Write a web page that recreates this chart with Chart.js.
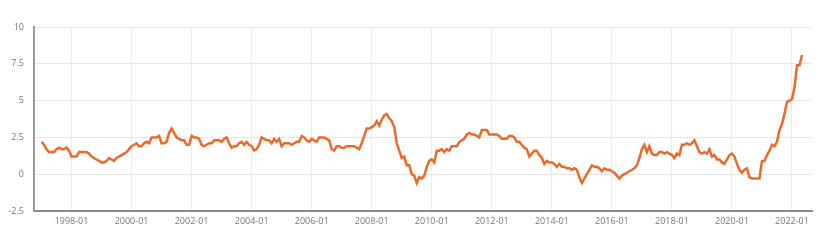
<!DOCTYPE html>
<html>
<head>
<meta charset="utf-8">
<script src="https://cdn.jsdelivr.net/npm/chart.js@4/dist/chart.umd.min.js"></script>
<style>
    html, body { margin: 0; padding: 0; background: #fff; }
    #wrap { width: 820px; height: 241px; }
</style>
</head>
<body>
<div id="wrap"><canvas id="chart" width="820" height="241"></canvas></div>
<script>
/* ---------- 資料 ---------- */
const firstYear = 1997;

// 每月數值（年增率 %），1997-01 ~ 2022-05
const inflation = [
    2.2, 2.0, 1.7, 1.5, 1.5, 1.5, 1.7, 1.8, 1.7, 1.7, 1.8, 1.6,   // 1997
    1.2, 1.2, 1.2, 1.5, 1.5, 1.5, 1.5, 1.4, 1.2, 1.1, 1.0, 0.9,   // 1998
    0.8, 0.8, 0.9, 1.1, 1.0, 0.9, 1.1, 1.2, 1.3, 1.4, 1.5, 1.7,   // 1999
    1.9, 2.0, 2.1, 1.9, 1.9, 2.1, 2.2, 2.1, 2.5, 2.5, 2.5, 2.6,   // 2000
    2.1, 2.1, 2.2, 2.8, 3.1, 2.8, 2.5, 2.4, 2.3, 2.3, 2.0, 2.0,   // 2001
    2.6, 2.5, 2.5, 2.4, 2.0, 1.9, 2.0, 2.1, 2.1, 2.3, 2.3, 2.3,   // 2002
    2.2, 2.4, 2.5, 2.1, 1.8, 1.9, 1.9, 2.1, 2.2, 2.0, 2.2, 2.0,   // 2003
    1.9, 1.6, 1.7, 2.0, 2.5, 2.4, 2.3, 2.3, 2.1, 2.4, 2.2, 2.4,   // 2004
    1.9, 2.1, 2.1, 2.1, 2.0, 2.1, 2.2, 2.2, 2.6, 2.5, 2.3, 2.2,   // 2005
    2.4, 2.3, 2.2, 2.5, 2.5, 2.5, 2.4, 2.3, 1.7, 1.6, 1.9, 1.9,   // 2006
    1.8, 1.8, 1.9, 1.9, 1.9, 1.9, 1.8, 1.7, 2.1, 2.6, 3.1, 3.1,   // 2007
    3.2, 3.3, 3.6, 3.3, 3.7, 4.0, 4.1, 3.8, 3.6, 3.2, 2.1, 1.6,   // 2008
    1.1, 1.2, 0.6, 0.6, 0.0, -0.1, -0.6, -0.2, -0.3, -0.1, 0.5, 0.9, // 2009
    1.0, 0.8, 1.6, 1.6, 1.7, 1.5, 1.7, 1.6, 1.9, 1.9, 1.9, 2.2,   // 2010
    2.3, 2.4, 2.7, 2.8, 2.7, 2.7, 2.6, 2.5, 3.0, 3.0, 3.0, 2.7,   // 2011
    2.7, 2.7, 2.7, 2.6, 2.4, 2.4, 2.4, 2.6, 2.6, 2.5, 2.2, 2.2,   // 2012
    2.0, 1.8, 1.7, 1.2, 1.4, 1.6, 1.6, 1.3, 1.1, 0.7, 0.9, 0.8,   // 2013
    0.8, 0.7, 0.5, 0.7, 0.5, 0.5, 0.4, 0.4, 0.3, 0.4, 0.3, -0.2,  // 2014
    -0.6, -0.3, 0.0, 0.3, 0.6, 0.5, 0.5, 0.4, 0.2, 0.4, 0.3, 0.3, // 2015
    0.2, 0.1, -0.1, -0.3, -0.1, 0.0, 0.1, 0.2, 0.3, 0.4, 0.6, 1.1, // 2016
    1.7, 2.0, 1.5, 1.9, 1.4, 1.3, 1.3, 1.5, 1.5, 1.4, 1.5, 1.4,   // 2017
    1.3, 1.1, 1.4, 1.3, 2.0, 2.0, 2.1, 2.0, 2.1, 2.3, 1.9, 1.5,   // 2018
    1.4, 1.5, 1.4, 1.7, 1.2, 1.3, 1.0, 1.0, 0.8, 0.7, 1.0, 1.3,   // 2019
    1.4, 1.2, 0.7, 0.3, 0.1, 0.3, 0.4, -0.2, -0.3, -0.3, -0.3, -0.3, // 2020
    0.9, 0.9, 1.3, 1.6, 2.0, 1.9, 2.2, 3.0, 3.4, 4.1, 4.9, 5.0,   // 2021
    5.1, 5.9, 7.4, 7.4, 8.1                                       // 2022
];

// 月份標籤
const months = inflation.map((_, i) => {
    const y = firstYear + Math.floor(i / 12);
    const m = (i % 12) + 1;
    return y + "-" + (m < 10 ? "0" + m : m);
});

const tickLabels = [
    "1998-01", "2000-01", "2002-01", "2004-01", "2006-01", "2008-01",
    "2010-01", "2012-01", "2014-01", "2016-01", "2018-01", "2020-01", "2022-01"
];

const yTicks = [-2.5, 0, 2.5, 5, 7.5, 10];

/* ---------- 圖表 ---------- */
const tickFont = { family: "'Open Sans', sans-serif", size: 9 };

new Chart(document.getElementById("chart"), {
    type: "line",
    data: {
        datasets: [{
            data: inflation.map((v, i) => ({ x: i, y: v })),
            borderColor: "#ea6a2a",
            borderWidth: 2.5,
            pointRadius: 0,
            tension: 0,
            fill: false
        }]
    },
    options: {
        responsive: false,
        animation: false,
        layout: { padding: { top: 27, right: 8, left: 0, bottom: 0 } },
        plugins: {
            legend: { display: false },
            tooltip: { enabled: false }
        },
        scales: {
            x: {
                type: "linear",
                min: -3,
                max: months.length + 3,
                afterBuildTicks: scale => {
                    scale.ticks = tickLabels.map(t => ({ value: months.indexOf(t) }));
                },
                afterFit: scale => { scale.height = 30; },
                ticks: {
                    autoSkip: false,
                    maxRotation: 0,
                    padding: 5,
                    color: "#777",
                    font: tickFont,
                    callback: v => months[v]
                },
                grid: { color: "#ebebeb", drawTicks: false },
                border: { display: true, color: "#8a8a8a", width: 2 }
            },
            y: {
                min: -2.5,
                max: 10,
                afterBuildTicks: scale => {
                    scale.ticks = yTicks.map(v => ({ value: v }));
                },
                afterFit: scale => { scale.width = 34; },
                ticks: {
                    padding: 10,
                    color: "#777",
                    font: tickFont
                },
                grid: { color: "#e6e6e6", drawTicks: false },
                border: { display: true, color: "#9a9a9a", width: 2 }
            }
        }
    }
});
</script>
</body>
</html>
